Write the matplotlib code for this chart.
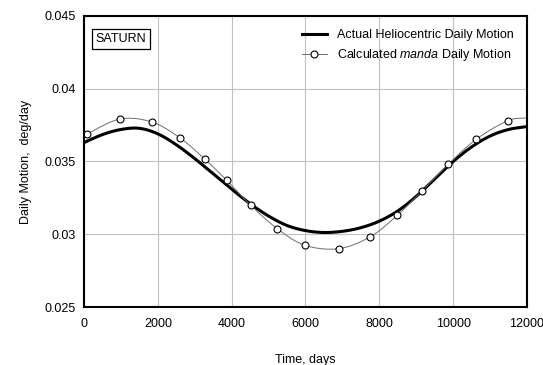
import numpy as np
import matplotlib
matplotlib.use("Agg")
import matplotlib.pyplot as plt

plt.rcParams['font.family'] = ['Liberation Sans', 'DejaVu Sans']
plt.rcParams['mathtext.fontset'] = 'custom'
plt.rcParams['mathtext.rm'] = 'Liberation Sans'
plt.rcParams['mathtext.it'] = 'Liberation Sans:italic'

# Actual heliocentric daily motion of Saturn (deg/day)
actual_days = [0, 500, 1000, 1500, 2000, 2500, 3000, 3500, 4000, 4500,
               5000, 5500, 6000, 6500, 7000, 7500, 8000, 8500, 9000, 9500,
               10000, 10500, 11000, 11500, 12000]
actual_motion = [0.0363, 0.03685, 0.0372, 0.03728, 0.0369, 0.03615, 0.0352,
                 0.03415, 0.0331, 0.0321, 0.03125, 0.0306, 0.03025, 0.03012,
                 0.0302, 0.03045, 0.0309, 0.0316, 0.0326, 0.0338, 0.0350,
                 0.0360, 0.03675, 0.0372, 0.0374]

# Calculated manda daily motion (deg/day)
manda_days = [89, 975, 1842, 2600, 3269, 3865, 4515, 5236, 5986, 6899, 7755,
              8486, 9163, 9867, 10626, 11476]
manda_motion = [0.03689, 0.03792, 0.03771, 0.03662, 0.03517, 0.03371,
                0.03199, 0.03038, 0.02924, 0.02901, 0.02983, 0.0313,
                0.03299, 0.03481, 0.03653, 0.0378]
# curve ends at the plot edges
manda_edge_days = [0, 12000]
manda_edge_motion = [0.0367, 0.0380]


def smooth(xs, ys, n=20):
    """Catmull-Rom smoothed path through the given points."""
    xs = np.asarray(xs, float)
    ys = np.asarray(ys, float)
    px = np.concatenate([[2 * xs[0] - xs[1]], xs, [2 * xs[-1] - xs[-2]]])
    py = np.concatenate([[2 * ys[0] - ys[1]], ys, [2 * ys[-1] - ys[-2]]])
    out_x, out_y = [], []
    t = np.linspace(0, 1, n, endpoint=False)
    for i in range(1, len(px) - 2):
        for p, out in ((px, out_x), (py, out_y)):
            p0, p1, p2, p3 = p[i - 1], p[i], p[i + 1], p[i + 2]
            out.extend(0.5 * ((2 * p1) + (-p0 + p2) * t
                              + (2 * p0 - 5 * p1 + 4 * p2 - p3) * t ** 2
                              + (-p0 + 3 * p1 - 3 * p2 + p3) * t ** 3))
    out_x.append(xs[-1])
    out_y.append(ys[-1])
    return np.array(out_x), np.array(out_y)


fig = plt.figure(figsize=(5.43, 3.65), dpi=100)
ax = fig.add_axes([0.1547, 0.1589, 0.8158, 0.7973])

ax.set_xlim(0, 12000)
ax.set_ylim(0.025, 0.045)
ax.set_xticks(np.arange(0, 12001, 2000))
ax.set_yticks([0.025, 0.03, 0.035, 0.04, 0.045])
ax.set_yticklabels(['0.025', '0.03', '0.035', '0.04', '0.045'])
ax.grid(True, color='#c0c0c0', linewidth=0.8)
ax.set_axisbelow(True)
ax.tick_params(length=0, labelsize=9)
ax.tick_params(axis='x', pad=8)
ax.tick_params(axis='y', pad=6)
for s in ax.spines.values():
    s.set_linewidth(1.5)
    s.set_color('black')

ax_x, ax_y = smooth(actual_days, actual_motion, 12)
ax.plot(ax_x, ax_y, color='black', linewidth=2.2,
        label='Actual Heliocentric Daily Motion')

md = [manda_edge_days[0]] + manda_days + [manda_edge_days[1]]
mm = [manda_edge_motion[0]] + manda_motion + [manda_edge_motion[1]]
mx, my = smooth(md, mm, 20)
ax.plot(mx, my, color='#6e6e6e', linewidth=0.7)
ax.plot(manda_days, manda_motion, linestyle='none', marker='o',
        markersize=5, markerfacecolor='white', markeredgecolor='black',
        markeredgewidth=0.8)
# legend proxy for the calculated series
ax.plot([], [], color='#6e6e6e', linewidth=0.7, marker='o', markersize=5,
        markerfacecolor='white', markeredgecolor='black', markeredgewidth=0.8,
        label=r'Calculated $\it{manda}$ Daily Motion')

ax.legend(loc='upper right', bbox_to_anchor=(0.981, 0.972), frameon=False,
          fontsize=9, handlelength=2.0, borderaxespad=0.0,
          handletextpad=0.8, labelspacing=0.5)

ax.text(0.0835, 0.921, 'SATURN', transform=ax.transAxes, fontsize=9,
        ha='center', va='center',
        bbox=dict(boxstyle='square,pad=0.3', facecolor='white',
                  edgecolor='black', linewidth=0.9))

ax.set_xlabel('Time, days', fontsize=9, labelpad=17)
ax.set_ylabel('Daily Motion,  deg/day', fontsize=9, labelpad=9)

fig.savefig('out.png', dpi=100)
